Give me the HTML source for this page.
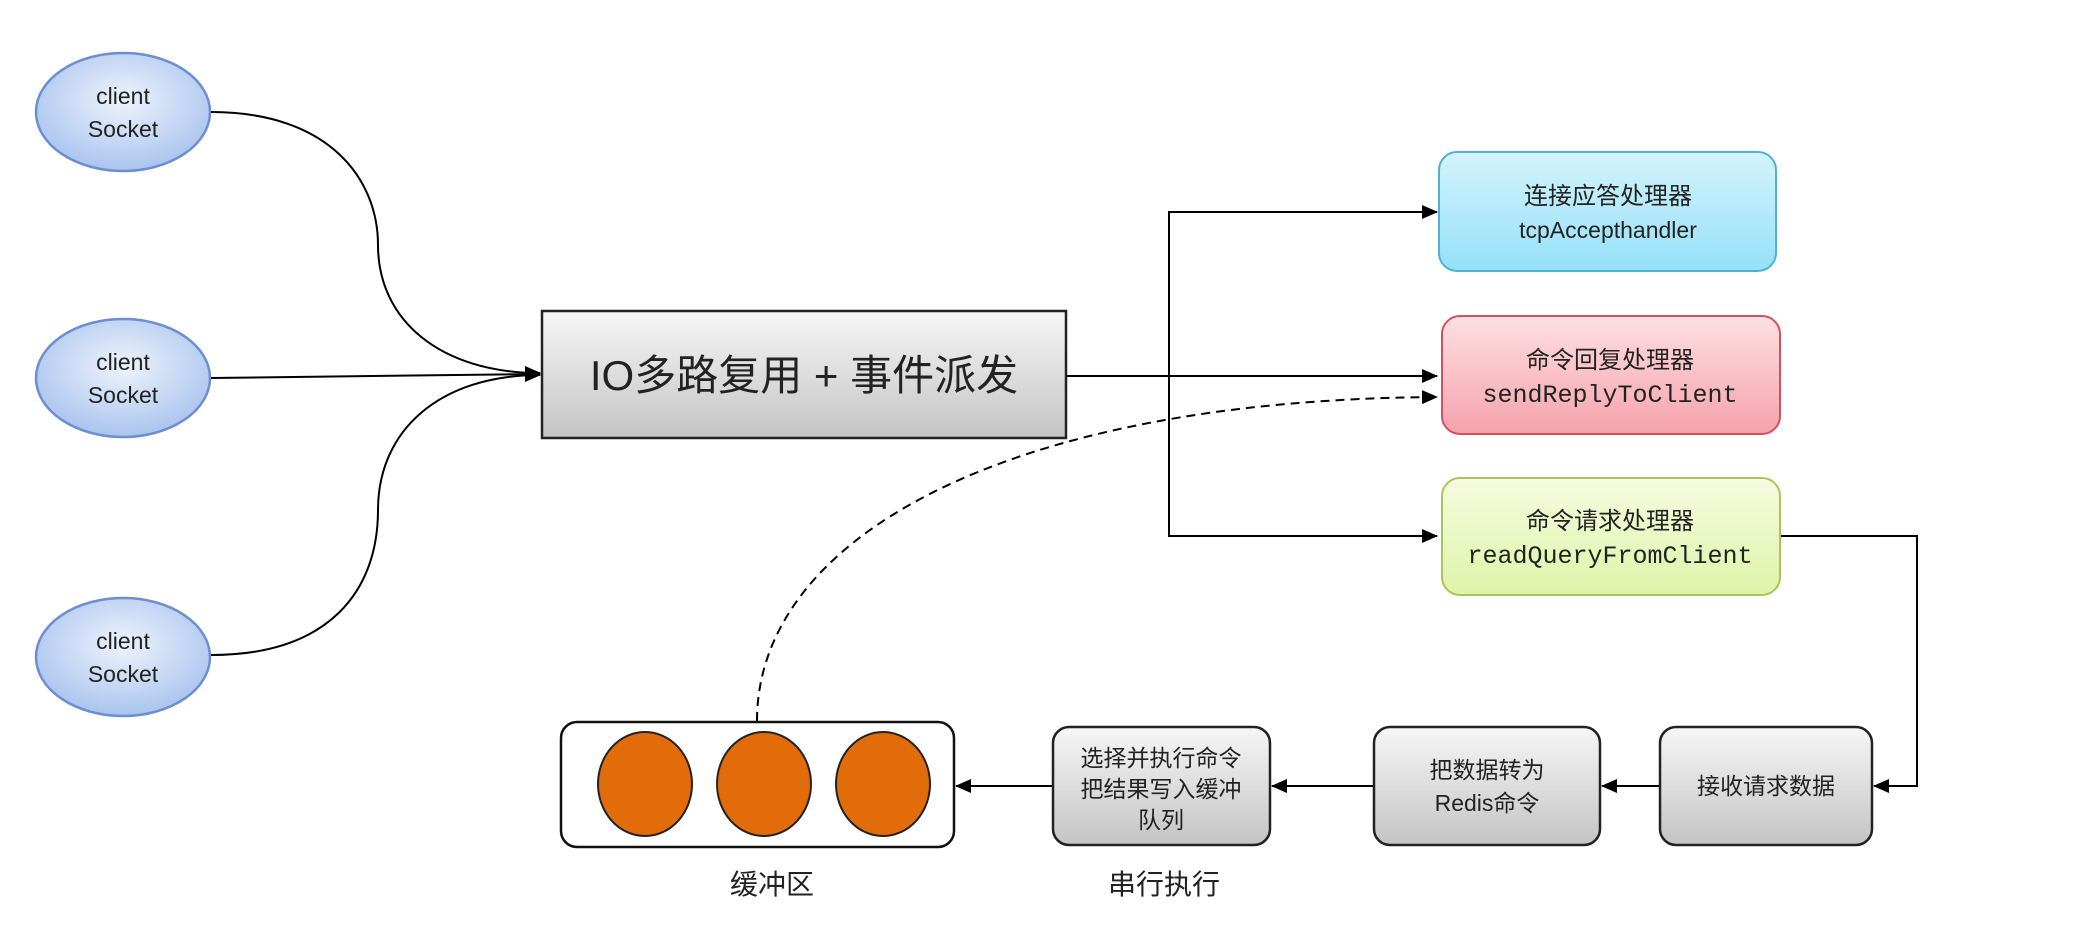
<!DOCTYPE html>
<html><head><meta charset="utf-8"><style>
html,body{margin:0;padding:0;background:#fff;}
svg{display:block;}
text{font-family:"Liberation Sans","Noto Sans CJK SC",sans-serif;fill:#222;}
.m{font-family:"Liberation Mono","Noto Sans CJK SC",monospace;}
</style></head><body>
<svg width="2074" height="930" viewBox="0 0 2074 930" xmlns="http://www.w3.org/2000/svg">
<defs>
<radialGradient id="gb" cx="50%" cy="40%" r="60%"><stop offset="0" stop-color="#eef3fc"/><stop offset="1" stop-color="#a9c4ee"/></radialGradient>
<linearGradient id="gg" x1="0" y1="0" x2="0" y2="1"><stop offset="0" stop-color="#f6f6f6"/><stop offset="1" stop-color="#c4c4c4"/></linearGradient>
<linearGradient id="gc" x1="0" y1="0" x2="0" y2="1"><stop offset="0" stop-color="#d4f3fc"/><stop offset="1" stop-color="#95e0f7"/></linearGradient>
<linearGradient id="gr" x1="0" y1="0" x2="0" y2="1"><stop offset="0" stop-color="#fde0e3"/><stop offset="1" stop-color="#f5a2ab"/></linearGradient>
<linearGradient id="gy" x1="0" y1="0" x2="0" y2="1"><stop offset="0" stop-color="#f6fbe0"/><stop offset="1" stop-color="#def4a8"/></linearGradient>
<marker id="a" markerWidth="10" markerHeight="10" refX="9" refY="5" orient="auto" markerUnits="userSpaceOnUse" viewBox="0 0 10 10"><path d="M0,0 L10,5 L0,10z" fill="#000"/></marker>
<marker id="b" markerWidth="16" markerHeight="16" refX="15" refY="8" orient="auto" markerUnits="userSpaceOnUse" viewBox="0 0 16 16"><path d="M0,1 L16,8 L0,15z" fill="#000"/></marker>
</defs>

<!-- client ellipses -->
<g stroke="#6d8fd1" stroke-width="2.5" fill="url(#gb)">
<ellipse cx="123" cy="112" rx="87" ry="59"/>
<ellipse cx="123" cy="378" rx="87" ry="59"/>
<ellipse cx="123" cy="657" rx="87" ry="59"/>
</g>
<g font-size="23" text-anchor="middle">
<text x="123" y="104">client</text><text x="123" y="137">Socket</text>
<text x="123" y="370">client</text><text x="123" y="403">Socket</text>
<text x="123" y="649">client</text><text x="123" y="682">Socket</text>
</g>

<!-- curves to IO -->
<g fill="none" stroke="#000" stroke-width="2">
<path d="M211,112 C330,112 378,180 378,245 C378,320 440,373 540,373" marker-end="url(#b)"/>
<path d="M211,378 L540,374" marker-end="url(#b)"/>
<path d="M211,655 C330,655 378,590 378,510 C378,430 440,375 540,375" marker-end="url(#b)"/>
</g>

<!-- IO box -->
<rect x="542" y="311" width="524" height="127" fill="url(#gg)" stroke="#222" stroke-width="2.5"/>
<text x="804" y="390" font-size="42" text-anchor="middle">IO多路复用 + 事件派发</text>

<!-- dispatch lines -->
<g fill="none" stroke="#000" stroke-width="2">
<path d="M1066,376 L1437,376" marker-end="url(#b)"/>
<path d="M1169,376 L1169,212 L1437,212" marker-end="url(#b)"/>
<path d="M1169,376 L1169,536 L1437,536" marker-end="url(#b)"/>
<path d="M757,721 C757,540 1000,400 1437,397" stroke-dasharray="9,6" marker-end="url(#b)"/>
<path d="M1780,536 L1917,536 L1917,786 L1874,786" marker-end="url(#b)"/>
<path d="M1660,786 L1602,786" marker-end="url(#b)"/>
<path d="M1374,786 L1272,786" marker-end="url(#b)"/>
<path d="M1053,786 L956,786" marker-end="url(#b)"/>
</g>

<!-- handlers -->
<rect x="1439" y="152" width="337" height="119" rx="18" fill="url(#gc)" stroke="#4cb3d0" stroke-width="2"/>
<text x="1608" y="204" font-size="24" text-anchor="middle">连接应答处理器</text>
<text x="1608" y="238" font-size="23" text-anchor="middle">tcpAccepthandler</text>
<rect x="1442" y="316" width="338" height="118" rx="18" fill="url(#gr)" stroke="#d5505e" stroke-width="2"/>
<text x="1610" y="368" font-size="24" text-anchor="middle">命令回复处理器</text>
<text x="1610" y="402" font-size="25" class="m" text-anchor="middle">sendReplyToClient</text>
<rect x="1442" y="478" width="338" height="117" rx="18" fill="url(#gy)" stroke="#a9c45a" stroke-width="2"/>
<text x="1610" y="529" font-size="24" text-anchor="middle">命令请求处理器</text>
<text x="1610" y="563" font-size="25" class="m" text-anchor="middle">readQueryFromClient</text>

<!-- bottom boxes -->
<g fill="url(#gg)" stroke="#222" stroke-width="2.5">
<rect x="1660" y="727" width="212" height="118" rx="16"/>
<rect x="1374" y="727" width="226" height="118" rx="16"/>
<rect x="1053" y="727" width="217" height="118" rx="16"/>
</g>
<g font-size="23" text-anchor="middle">
<text x="1766" y="794">接收请求数据</text>
<text x="1487" y="778">把数据转为</text>
<text x="1487" y="811">Redis命令</text>
<text x="1161" y="766">选择并执行命令</text>
<text x="1161" y="797">把结果写入缓冲</text>
<text x="1161" y="828">队列</text>
</g>

<!-- buffer -->
<rect x="561" y="722" width="393" height="125" rx="16" fill="#fff" stroke="#111" stroke-width="2.5"/>
<g fill="#e36c0a" stroke="#222" stroke-width="2">
<ellipse cx="645" cy="784" rx="47" ry="52"/>
<ellipse cx="764" cy="784" rx="47" ry="52"/>
<ellipse cx="883" cy="784" rx="47" ry="52"/>
</g>
<text x="772" y="894" font-size="28" text-anchor="middle">缓冲区</text>
<text x="1164" y="894" font-size="28" text-anchor="middle">串行执行</text>
</svg>
</body></html>
